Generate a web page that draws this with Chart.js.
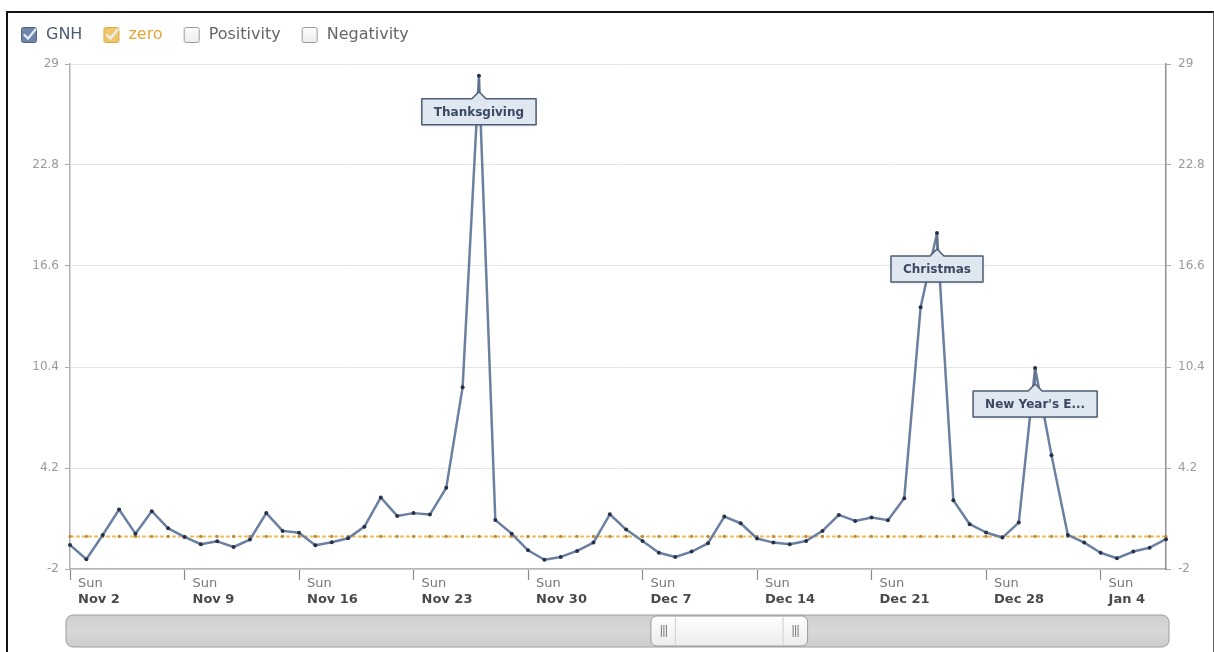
<!DOCTYPE html>
<html><head><meta charset="utf-8">
<script src="https://cdn.jsdelivr.net/npm/chart.js@4/dist/chart.umd.min.js"></script>
<style>
html,body{margin:0;padding:0;background:#fff;overflow:hidden;}
#wrap{position:relative;width:1214px;height:652px;}
#c{position:absolute;left:0;top:0;}
#frame{position:absolute;left:6px;top:11px;width:1205px;height:700px;border-left:2px solid #111;border-top:2px solid #111;border-right:1px solid #666;pointer-events:none;}
</style></head><body>
<div id="wrap"><canvas id="c" width="1214" height="652"></canvas><div id="frame"></div></div>
<script>
// ---- data ----
const days = [
 'Nov 2','Nov 3','Nov 4','Nov 5','Nov 6','Nov 7','Nov 8','Nov 9','Nov 10','Nov 11',
 'Nov 12','Nov 13','Nov 14','Nov 15','Nov 16','Nov 17','Nov 18','Nov 19','Nov 20','Nov 21',
 'Nov 22','Nov 23','Nov 24','Nov 25','Nov 26','Nov 27','Nov 28','Nov 29','Nov 30','Dec 1',
 'Dec 2','Dec 3','Dec 4','Dec 5','Dec 6','Dec 7','Dec 8','Dec 9','Dec 10','Dec 11',
 'Dec 12','Dec 13','Dec 14','Dec 15','Dec 16','Dec 17','Dec 18','Dec 19','Dec 20','Dec 21',
 'Dec 22','Dec 23','Dec 24','Dec 25','Dec 26','Dec 27','Dec 28','Dec 29','Dec 30','Dec 31',
 'Jan 1','Jan 2','Jan 3','Jan 4','Jan 5','Jan 6','Jan 7','Jan 8'
];
const sundays = ['Nov 2','Nov 9','Nov 16','Nov 23','Nov 30','Dec 7','Dec 14','Dec 21','Dec 28','Jan 4'];
const weekdayLabel = 'Sun';
const gnh = [
 -0.52,-1.40,0.09,1.65,0.17,1.55,0.50,-0.03,-0.48,-0.30,
 -0.65,-0.19,1.43,0.34,0.22,-0.54,-0.36,-0.11,0.60,2.39,
 1.26,1.43,1.34,2.98,9.15,28.28,1.01,0.17,-0.85,-1.43,
 -1.26,-0.89,-0.38,1.36,0.42,-0.28,-1.00,-1.26,-0.93,-0.42,
 1.22,0.81,-0.13,-0.38,-0.48,-0.28,0.34,1.32,0.95,1.16,
 1.00,2.35,14.07,18.62,2.22,0.75,0.24,-0.07,0.85,10.34,
 4.99,0.09,-0.38,-1.00,-1.34,-0.93,-0.69,-0.17
];
const zero = [
 0,0,0,0,0,0,0,0,0,0,
 0,0,0,0,0,0,0,0,0,0,
 0,0,0,0,0,0,0,0,0,0,
 0,0,0,0,0,0,0,0,0,0,
 0,0,0,0,0,0,0,0,0,0,
 0,0,0,0,0,0,0,0,0,0,
 0,0,0,0,0,0,0,0
];
const yTicks = [-2, 4.2, 10.4, 16.6, 22.8, 29];
const legendNames = ['GNH','zero','Positivity','Negativity'];
const legendChecked = [true, true, false, false];
const holidayDays = ['Nov 27','Dec 25','Dec 31'];
const holidayTexts = ['Thanksgiving','Christmas',"New Year's E..."];

// ---- styles ----
const FONT = "'DejaVu Sans', 'Liberation Sans', sans-serif";
Chart.defaults.font.family = FONT;
const legendFill = ['#6f86a8','#f1c66a','#ffffff','#ffffff'];
const legendStroke = ['#52647f','#d9a949','#9a9a9a','#9a9a9a'];
const legendText = ['#4f5d74','#e3a53a','#666666','#666666'];

function checkbox(i){
  const c = document.createElement('canvas'); c.width = 18; c.height = 18;
  const g = c.getContext('2d');
  g.beginPath(); g.roundRect(1.5,1.5,15,15,2);
  if (legendChecked[i]) {
    g.fillStyle = legendFill[i]; g.fill();
  } else {
    const gr = g.createLinearGradient(0,0,0,17); gr.addColorStop(0,'#ffffff'); gr.addColorStop(1,'#ececec');
    g.fillStyle = gr; g.fill();
  }
  g.strokeStyle = legendStroke[i]; g.lineWidth = 1; g.stroke();
  if (legendChecked[i]) {
    g.beginPath(); g.moveTo(4.5,9); g.lineTo(8,12.5); g.lineTo(15.5,3.5);
    g.strokeStyle = 'rgba(235,242,252,0.95)'; g.lineWidth = 2.3; g.lineCap='round'; g.stroke();
  }
  return c;
}
const boxes = legendNames.map((_, i) => checkbox(i));

const legendSizer = {
  id: 'legendSizer',
  beforeInit(chart) {
    const orig = chart.legend.fit.bind(chart.legend);
    chart.legend.fit = function(){ orig(); this.height = 57; };
  }
};

const flags = {
  id: 'flags',
  afterDatasetsDraw(chart) {
    const meta = chart.getDatasetMeta(0);
    const g = chart.ctx;
    g.save();
    g.font = "bold 12px " + FONT;
    holidayDays.forEach((d, k) => {
      const p = meta.data[days.indexOf(d)];
      const text = holidayTexts[k];
      const w = g.measureText(text).width + 24, h = 26;
      const top = p.y + 23, left = p.x - w/2;
      g.strokeStyle = '#5d6d86'; g.lineWidth = 1.5;
      g.beginPath(); g.moveTo(p.x, p.y + 3); g.lineTo(p.x, top - 6); g.stroke();
      g.beginPath();
      g.moveTo(left, top); g.lineTo(p.x - 7, top); g.lineTo(p.x, top - 7); g.lineTo(p.x + 7, top);
      g.lineTo(left + w, top); g.lineTo(left + w, top + h); g.lineTo(left, top + h); g.closePath();
      g.shadowColor = 'rgba(0,0,0,0.15)'; g.shadowBlur = 3; g.shadowOffsetY = 1;
      g.fillStyle = '#dfe7f1'; g.fill();
      g.shadowColor = 'transparent';
      g.strokeStyle = '#4e5d74'; g.lineWidth = 1.5; g.lineJoin = 'round'; g.stroke();
      g.fillStyle = '#3b4a62'; g.textAlign = 'center'; g.textBaseline = 'middle';
      g.fillText(text, p.x, top + h/2 + 1);
    });
    g.restore();
  }
};

const navigator = {
  id: 'navigator',
  afterDraw(chart) {
    const g = chart.ctx, ca = chart.chartArea;
    const y0 = chart.height - 37, bh = 32;
    const x0 = ca.left - 4, bw = ca.right - ca.left + 7;
    g.save();
    let gr = g.createLinearGradient(0, y0, 0, y0 + bh);
    gr.addColorStop(0, '#cfcfcf'); gr.addColorStop(0.5, '#d8d8d8'); gr.addColorStop(1, '#cdcdcd');
    g.beginPath(); g.roundRect(x0, y0, bw, bh, 7); g.fillStyle = gr; g.fill();
    g.strokeStyle = '#9c9c9c'; g.lineWidth = 1; g.stroke();
    const hx = ca.left + 0.530 * (ca.right - ca.left), hw = 0.143 * (ca.right - ca.left);
    gr = g.createLinearGradient(0, y0, 0, y0 + bh);
    gr.addColorStop(0, '#ffffff'); gr.addColorStop(1, '#ececec');
    g.beginPath(); g.roundRect(hx, y0 + 1, hw, bh - 2, 6); g.fillStyle = gr; g.fill();
    g.strokeStyle = '#9a9a9a'; g.stroke();
    g.strokeStyle = '#d0d0d0';
    g.beginPath(); g.moveTo(hx + 24.5, y0 + 2); g.lineTo(hx + 24.5, y0 + bh - 2);
    g.moveTo(hx + hw - 24.5, y0 + 2); g.lineTo(hx + hw - 24.5, y0 + bh - 2); g.stroke();
    g.strokeStyle = '#777'; g.lineWidth = 1;
    [hx + 10, hx + hw - 15].forEach(gx => {
      g.beginPath();
      for (let j = 0; j < 3; j++) { g.moveTo(gx + j * 2.5 + 0.5, y0 + 10); g.lineTo(gx + j * 2.5 + 0.5, y0 + 22); }
      g.stroke();
    });
    g.restore();
  }
};

const weeklyOnly = s => { s.ticks = s.ticks.filter(t => sundays.includes(days[t.value])); };
const fixedY = s => { s.ticks = yTicks.map(v => ({ value: v })); };

new Chart(document.getElementById('c'), {
  type: 'line',
  data: {
    labels: days,
    datasets: [
      { label: 'GNH', data: gnh, xAxisID: 'x', yAxisID: 'y',
        borderColor: '#6b80a0', borderWidth: 2.5, tension: 0, borderJoinStyle: 'round', borderCapStyle: 'round',
        pointRadius: 2, pointBackgroundColor: '#27324a', pointBorderWidth: 0 },
      { label: 'zero', data: zero, xAxisID: 'x', yAxisID: 'y',
        borderColor: 'rgba(236,188,82,0.95)', borderWidth: 2, borderDash: [4, 2], tension: 0,
        pointRadius: 1.6, pointBackgroundColor: '#b78c3e', pointBorderWidth: 0 }
    ]
  },
  options: {
    responsive: false, animation: false, events: [],
    layout: { padding: { top: 7, bottom: 36, left: 0, right: 0 } },
    plugins: {
      tooltip: { enabled: false },
      legend: {
        position: 'top', align: 'start', onClick: null,
        labels: {
          usePointStyle: true, pointStyleWidth: 18, padding: 20,
          font: { size: 16, family: FONT },
          generateLabels: () => legendNames.map((n, i) => ({
            text: n, pointStyle: boxes[i], fontColor: legendText[i], hidden: false,
            datasetIndex: i, lineWidth: 0, strokeStyle: 'transparent', fillStyle: 'transparent'
          }))
        }
      }
    },
    scales: {
      x: {
        type: 'category', position: 'bottom', offset: false,
        afterBuildTicks: weeklyOnly,
        afterFit: s => { s.height = 22; },
        grid: { drawOnChartArea: false, tickLength: 11, tickColor: '#8a8a8a', tickWidth: 1.2 },
        border: { color: '#b5b5b5', width: 1.5 },
        ticks: { autoSkip: false, maxRotation: 0, align: 'start', labelOffset: 8, padding: -4,
          color: '#777', font: { size: 13 }, callback: () => weekdayLabel }
      },
      x2: {
        type: 'category', position: 'bottom', offset: false, labels: days,
        afterBuildTicks: weeklyOnly,
        afterFit: s => { s.height = 25; },
        grid: { display: false, drawTicks: false },
        border: { display: false },
        ticks: { autoSkip: false, maxRotation: 0, align: 'start', labelOffset: 8, padding: 1,
          color: '#4a4a4a', font: { size: 13, weight: 'bold' },
          callback: function (v) { return this.getLabelForValue(v); } }
      },
      y: {
        position: 'left', min: -2, max: 29,
        afterBuildTicks: fixedY,
        afterFit: s => { s.width = 70; },
        grid: { color: '#e4e4e4', tickColor: '#aaa', tickLength: 5 },
        border: { color: '#b0b0b0', width: 1.5 },
        ticks: { color: '#9a9a9a', font: { size: 12 }, padding: 6, callback: v => String(v) }
      },
      y2: {
        position: 'right', min: -2, max: 29,
        afterBuildTicks: fixedY,
        afterFit: s => { s.width = 48; },
        grid: { drawOnChartArea: false, tickColor: '#aaa', tickLength: 5 },
        border: { color: '#8f8f8f', width: 1.5 },
        ticks: { color: '#9a9a9a', font: { size: 12 }, padding: 7, callback: v => String(v) }
      }
    }
  },
  plugins: [legendSizer, flags, navigator]
});
</script>
</body></html>
